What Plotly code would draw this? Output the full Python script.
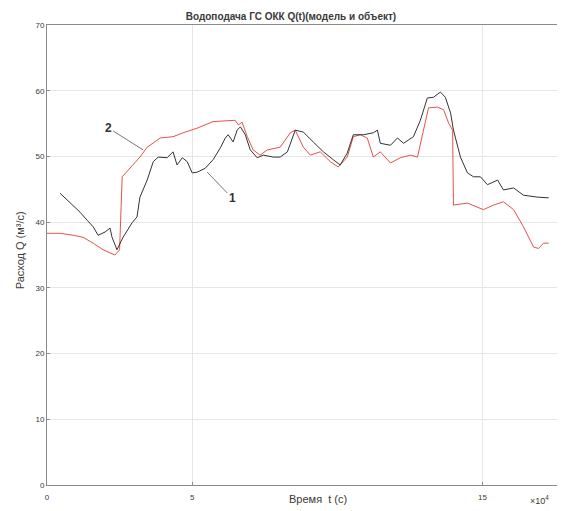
import plotly.graph_objects as go

# Series 1: object (black), Series 2: model (red)
x_obj = [0.45, 0.69, 0.9, 1.14, 1.38, 1.59, 1.76, 2.0, 2.17, 2.24, 2.41, 2.62, 2.93, 3.1, 3.2,
         3.45, 3.66, 3.83, 4.14, 4.34, 4.48, 4.66, 4.83, 5.0, 5.17, 5.45, 5.72, 5.97, 6.14, 6.24,
         6.41, 6.55, 6.66, 6.83, 7.0, 7.24, 7.45, 7.79, 8.03, 8.28, 8.55, 8.83, 9.17, 9.52, 9.86,
         10.1, 10.34, 10.55, 10.9, 11.24, 11.38, 11.48, 11.83, 12.07, 12.28, 12.62, 12.86, 13.1,
         13.31, 13.55, 13.72, 13.9, 14.0, 14.24, 14.48, 14.69, 14.93, 15.17, 15.52, 15.72, 16.07,
         16.41, 16.9, 17.28]
q_obj = [44.4, 43.4, 42.6, 41.5, 40.3, 39.3, 38.0, 38.5, 39.1, 37.7, 35.8, 37.7, 39.9, 40.8, 43.8,
         46.4, 49.2, 49.9, 49.8, 50.7, 48.7, 49.8, 49.2, 47.5, 47.6, 48.2, 49.5, 51.3, 52.8, 53.3,
         52.2, 54.0, 54.5, 53.3, 51.0, 49.8, 50.2, 49.9, 49.9, 50.7, 54.0, 53.7, 52.2, 50.7, 49.5,
         48.7, 50.5, 53.3, 53.3, 53.6, 54.0, 52.0, 51.7, 52.8, 52.0, 53.0, 55.5, 58.9,
         59.0, 59.8, 59.0, 56.6, 54.0, 49.9, 47.5, 46.9, 46.9, 45.7, 46.4, 44.9, 45.2,
         44.1, 43.8, 43.7]

x_mod = [0.0, 0.45, 0.9, 1.24, 1.59, 1.93, 2.34, 2.5, 2.59, 2.86, 3.2, 3.45, 3.79, 3.9, 4.34, 4.69,
         5.17, 5.72, 6.48, 6.59, 6.72, 6.9, 7.1, 7.34, 7.59, 8.03, 8.38, 8.55, 8.83, 9.07, 9.41,
         9.76, 10.03, 10.34, 10.55, 10.79, 11.03, 11.24, 11.48, 11.83, 12.17, 12.52, 12.76, 12.97,
         13.14, 13.45, 13.66, 13.83, 13.97, 14.0, 14.48, 15.03, 15.38, 15.72, 16.07, 16.41, 16.76,
         16.93, 17.1, 17.28]
q_mod = [38.3, 38.3, 38.0, 37.7, 36.8, 35.8, 35.0, 35.8, 46.9, 48.2, 49.9, 51.4, 52.5, 52.8, 53.0, 53.6,
         54.3, 55.3, 55.5, 54.8, 55.2, 53.0, 51.0, 50.2, 51.0, 51.4, 53.6, 54.0, 51.4, 50.2, 50.7,
         49.2, 48.4, 49.9, 53.0, 53.3, 52.8, 49.9, 50.7, 49.0, 49.8, 50.2, 49.9, 54.0,
         57.4, 57.5, 57.1, 55.1, 54.0, 42.6, 42.9, 41.9, 42.6, 43.1, 41.9, 39.3, 36.2,
         36.0, 36.8, 36.8]

x_ticks = [0, 5, 15]
x_tick_text = ["0", "5", "15"]
y_ticks = [0, 10, 20, 30, 40, 50, 60, 70]

title = "Водоподача ГС ОКК Q(t)(модель и объект)"
x_title = "Время  t (с)"
y_title = "Расход Q (м³/с)"

font_family = "Liberation Sans, Arial, sans-serif"
txt_color = "#3a3a3a"

fig = go.Figure()
fig.add_trace(go.Scatter(x=x_mod, y=q_mod, mode="lines",
                         line=dict(color="#e8504f", width=1), name="модель"))
fig.add_trace(go.Scatter(x=x_obj, y=q_obj, mode="lines",
                         line=dict(color="#333333", width=1), name="объект"))

axis_common = dict(showline=True, linecolor="#8a8a8a", linewidth=1, mirror=True,
                   ticks="inside", ticklen=3, tickcolor="#8a8a8a",
                   showgrid=True, gridcolor="#e6e6e6", gridwidth=1, zeroline=False,
                   tickfont=dict(family=font_family, size=8, color=txt_color))

# page body has an 8px margin: figure drawn at (8, 8)
fig.update_layout(
    width=557, height=503,
    margin=dict(l=39, r=7, t=17, b=26),
    paper_bgcolor="white", plot_bgcolor="white",
    showlegend=False,
    title=dict(text="<b>" + title + "</b>", x=0.508, xanchor="center",
               y=0.984, yanchor="middle",
               font=dict(family=font_family, size=10, color=txt_color)),
    xaxis=dict(range=[0, 17.6], tickvals=x_ticks, ticktext=x_tick_text,
               ticklabelstandoff=4, **axis_common),
    yaxis=dict(range=[0, 70], tickvals=y_ticks, **axis_common),
)

fig.add_annotation(x=0.53, y=-0.03, xref="paper", yref="paper", text=x_title,
                   showarrow=False, yanchor="middle", xanchor="center",
                   font=dict(family=font_family, size=11, color=txt_color))
fig.add_annotation(x=-0.053, y=0.51, xref="paper", yref="paper", text=y_title,
                   showarrow=False, textangle=-90, xanchor="center", yanchor="middle",
                   font=dict(family=font_family, size=11, color=txt_color))
fig.add_annotation(x=16.95, y=-0.032, xref="x", yref="paper", text="×10<sup>4</sup>",
                   showarrow=False, yanchor="middle",
                   font=dict(family=font_family, size=9, color=txt_color))

fig.add_annotation(x=3.31, y=51.0, xref="x", yref="y", text="<b>2</b>",
                   showarrow=True, arrowhead=0, arrowwidth=1, arrowcolor="#777777",
                   ax=-35, ay=-22, font=dict(family=font_family, size=12, color="#333333"))
fig.add_annotation(x=5.52, y=47.6, xref="x", yref="y", text="<b>1</b>",
                   showarrow=True, arrowhead=0, arrowwidth=1, arrowcolor="#777777",
                   ax=25, ay=26, font=dict(family=font_family, size=12, color="#333333"))

fig.write_html("out.html")
